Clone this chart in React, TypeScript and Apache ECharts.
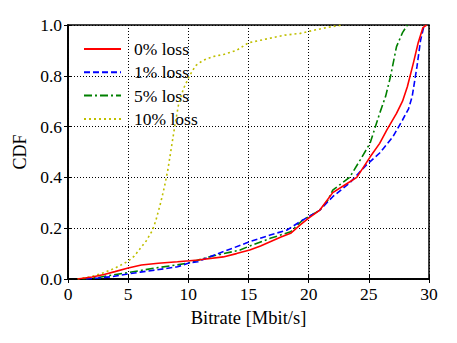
import React, { useEffect, useRef } from "react";
import * as echarts from "echarts";

const seriesNames = ["0% loss", "1% loss", "5% loss", "10% loss"];
const xTicks = [0, 5, 10, 15, 20, 25, 30];
const yTicks = [0, 0.2, 0.4, 0.6, 0.8, 1.0];

const loss0X = [0.8, 2, 3, 3.9, 5, 6.1, 7.5, 9.1, 10.1, 10.8, 12.9, 14, 15.1, 16, 16.8, 17.7, 18.5, 19.3, 20, 20.9, 22, 23, 24, 25.1, 25.9, 26.5, 27.3, 27.8, 28.2, 28.7, 29.1, 29.5, 29.8];
const loss0Y = [0, 0.008, 0.018, 0.029, 0.043, 0.055, 0.062, 0.068, 0.072, 0.075, 0.087, 0.1, 0.114, 0.13, 0.147, 0.165, 0.18, 0.213, 0.24, 0.27, 0.34, 0.37, 0.4, 0.48, 0.534, 0.587, 0.652, 0.7, 0.757, 0.85, 0.93, 0.99, 1.0];

const loss1X = [1.5, 2.5, 3.6, 5, 6, 7.2, 9.1, 10.1, 10.8, 11.8, 13.5, 15.1, 16.8, 18.2, 19.5, 20.9, 22, 23.4, 24.8, 25.9, 27, 27.8, 28.3, 28.6, 29, 29.3, 29.6];
const loss1Y = [0, 0.004, 0.009, 0.02, 0.027, 0.035, 0.048, 0.064, 0.068, 0.088, 0.118, 0.147, 0.173, 0.193, 0.232, 0.27, 0.324, 0.378, 0.449, 0.496, 0.56, 0.626, 0.67, 0.718, 0.836, 0.94, 1.0];

const loss5X = [1.2, 2.5, 3.6, 5, 6.2, 7.5, 9, 10, 11.8, 14.3, 15.1, 16.8, 18.5, 19.5, 20.9, 21.6, 22, 23.4, 24.3, 25.1, 25.9, 26.4, 26.8, 27.3, 27.8, 28.2];
const loss5Y = [0, 0.006, 0.015, 0.025, 0.035, 0.045, 0.055, 0.063, 0.088, 0.114, 0.13, 0.16, 0.186, 0.232, 0.27, 0.31, 0.35, 0.4, 0.47, 0.534, 0.652, 0.72, 0.797, 0.915, 0.97, 1.0];

const loss10X = [0.8, 2, 3, 4, 5, 5.5, 6, 6.5, 7, 7.3, 7.7, 8, 8.3, 8.6, 8.9, 9.2, 9.6, 10.1, 10.6, 11.2, 12, 13, 14, 15, 16, 17, 18, 19.3, 20.5, 21.5, 22.8];
const loss10Y = [0, 0.01, 0.025, 0.045, 0.07, 0.09, 0.12, 0.15, 0.19, 0.23, 0.3, 0.36, 0.43, 0.52, 0.61, 0.69, 0.75, 0.8, 0.84, 0.86, 0.875, 0.885, 0.9, 0.93, 0.94, 0.95, 0.96, 0.967, 0.98, 0.99, 1.0];

const seriesX = [loss0X, loss1X, loss5X, loss10X];
const seriesY = [loss0Y, loss1Y, loss5Y, loss10Y];
const colors = ["#ff0000", "#0000ff", "#008000", "#bfbf00"];
const dashes: any[] = ["solid", [6, 3], [8, 3, 2, 3], [2, 3]];

const FONT = "Liberation Serif";

export default function App() {
  const ref = useRef<HTMLDivElement>(null);
  useEffect(() => {
    if (!ref.current) return;
    const chart = echarts.init(ref.current, null, { renderer: "svg" });
    const series = seriesNames.map((name, i) => ({
      name,
      type: "line",
      xAxisIndex: 0,
      yAxisIndex: 0,
      showSymbol: false,
      symbol: "none",
      data: seriesX[i].map((x, j) => [x, seriesY[i][j]]),
      lineStyle: { color: colors[i], width: 1.6, type: dashes[i] },
      itemStyle: { color: colors[i] },
      z: 10 - i,
    }));
    const gridLine = { show: true, lineStyle: { color: "#000", type: [1, 2], width: 1 } };
    chart.setOption({
      animation: false,
      textStyle: { fontFamily: FONT },
      grid: { left: 68, right: 28, top: 25, bottom: 64, show: true, borderColor: "#000", borderWidth: 1.5, backgroundColor: "transparent" },
      legend: {
        orient: "vertical",
        left: 78,
        top: 35,
        itemWidth: 37,
        itemHeight: 14,
        itemGap: 5.3,
        data: seriesNames,
        itemStyle: { color: "transparent", borderWidth: 0, opacity: 0 },
        textStyle: { fontFamily: FONT, fontSize: 17.5, color: "#000", padding: [0, 0, 0, 8] },
      },
      xAxis: [
        {
          type: "value", min: 0, max: 30, interval: 5,
          axisLine: { show: true, lineStyle: { color: "#000", width: 1.5 } },
          axisTick: { show: true, inside: true, length: 4, lineStyle: { color: "#000" } },
          axisLabel: { fontFamily: FONT, fontSize: 17.5, color: "#000", margin: 6, formatter: (v: number) => (xTicks.includes(v) ? String(v) : "") },
          splitLine: gridLine,
          name: "Bitrate [Mbit/s]", nameLocation: "middle", nameGap: 29,
          nameTextStyle: { fontFamily: FONT, fontSize: 18.5, color: "#000" },
        },
        {
          type: "value", min: 0, max: 30, interval: 5, position: "top",
          axisLine: { show: true, lineStyle: { color: "#000", width: 1.5 } },
          axisTick: { show: true, inside: true, length: 4, lineStyle: { color: "#000" } },
          axisLabel: { show: false }, splitLine: { show: false },
        },
      ],
      yAxis: [
        {
          type: "value", min: 0, max: 1, interval: 0.2,
          axisLine: { show: true, lineStyle: { color: "#000", width: 1.5 } },
          axisTick: { show: true, inside: true, length: 4, lineStyle: { color: "#000" } },
          axisLabel: { fontFamily: FONT, fontSize: 17.5, color: "#000", margin: 6, formatter: (v: number) => (yTicks.some((t) => Math.abs(t - v) < 1e-6) ? v.toFixed(1) : "") },
          splitLine: gridLine,
          name: "CDF", nameLocation: "middle", nameGap: 35,
          nameTextStyle: { fontFamily: FONT, fontSize: 18, color: "#000" },
        },
        {
          type: "value", min: 0, max: 1, interval: 0.2, position: "right",
          axisLine: { show: true, lineStyle: { color: "#000", width: 1.5 } },
          axisTick: { show: true, inside: true, length: 4, lineStyle: { color: "#000" } },
          axisLabel: { show: false }, splitLine: { show: false },
        },
      ],
      series,
    });
    return () => chart.dispose();
  }, []);
  return <div ref={ref} style={{ width: 457, height: 343, position: "absolute", left: 0, top: 0 }} />;
}
